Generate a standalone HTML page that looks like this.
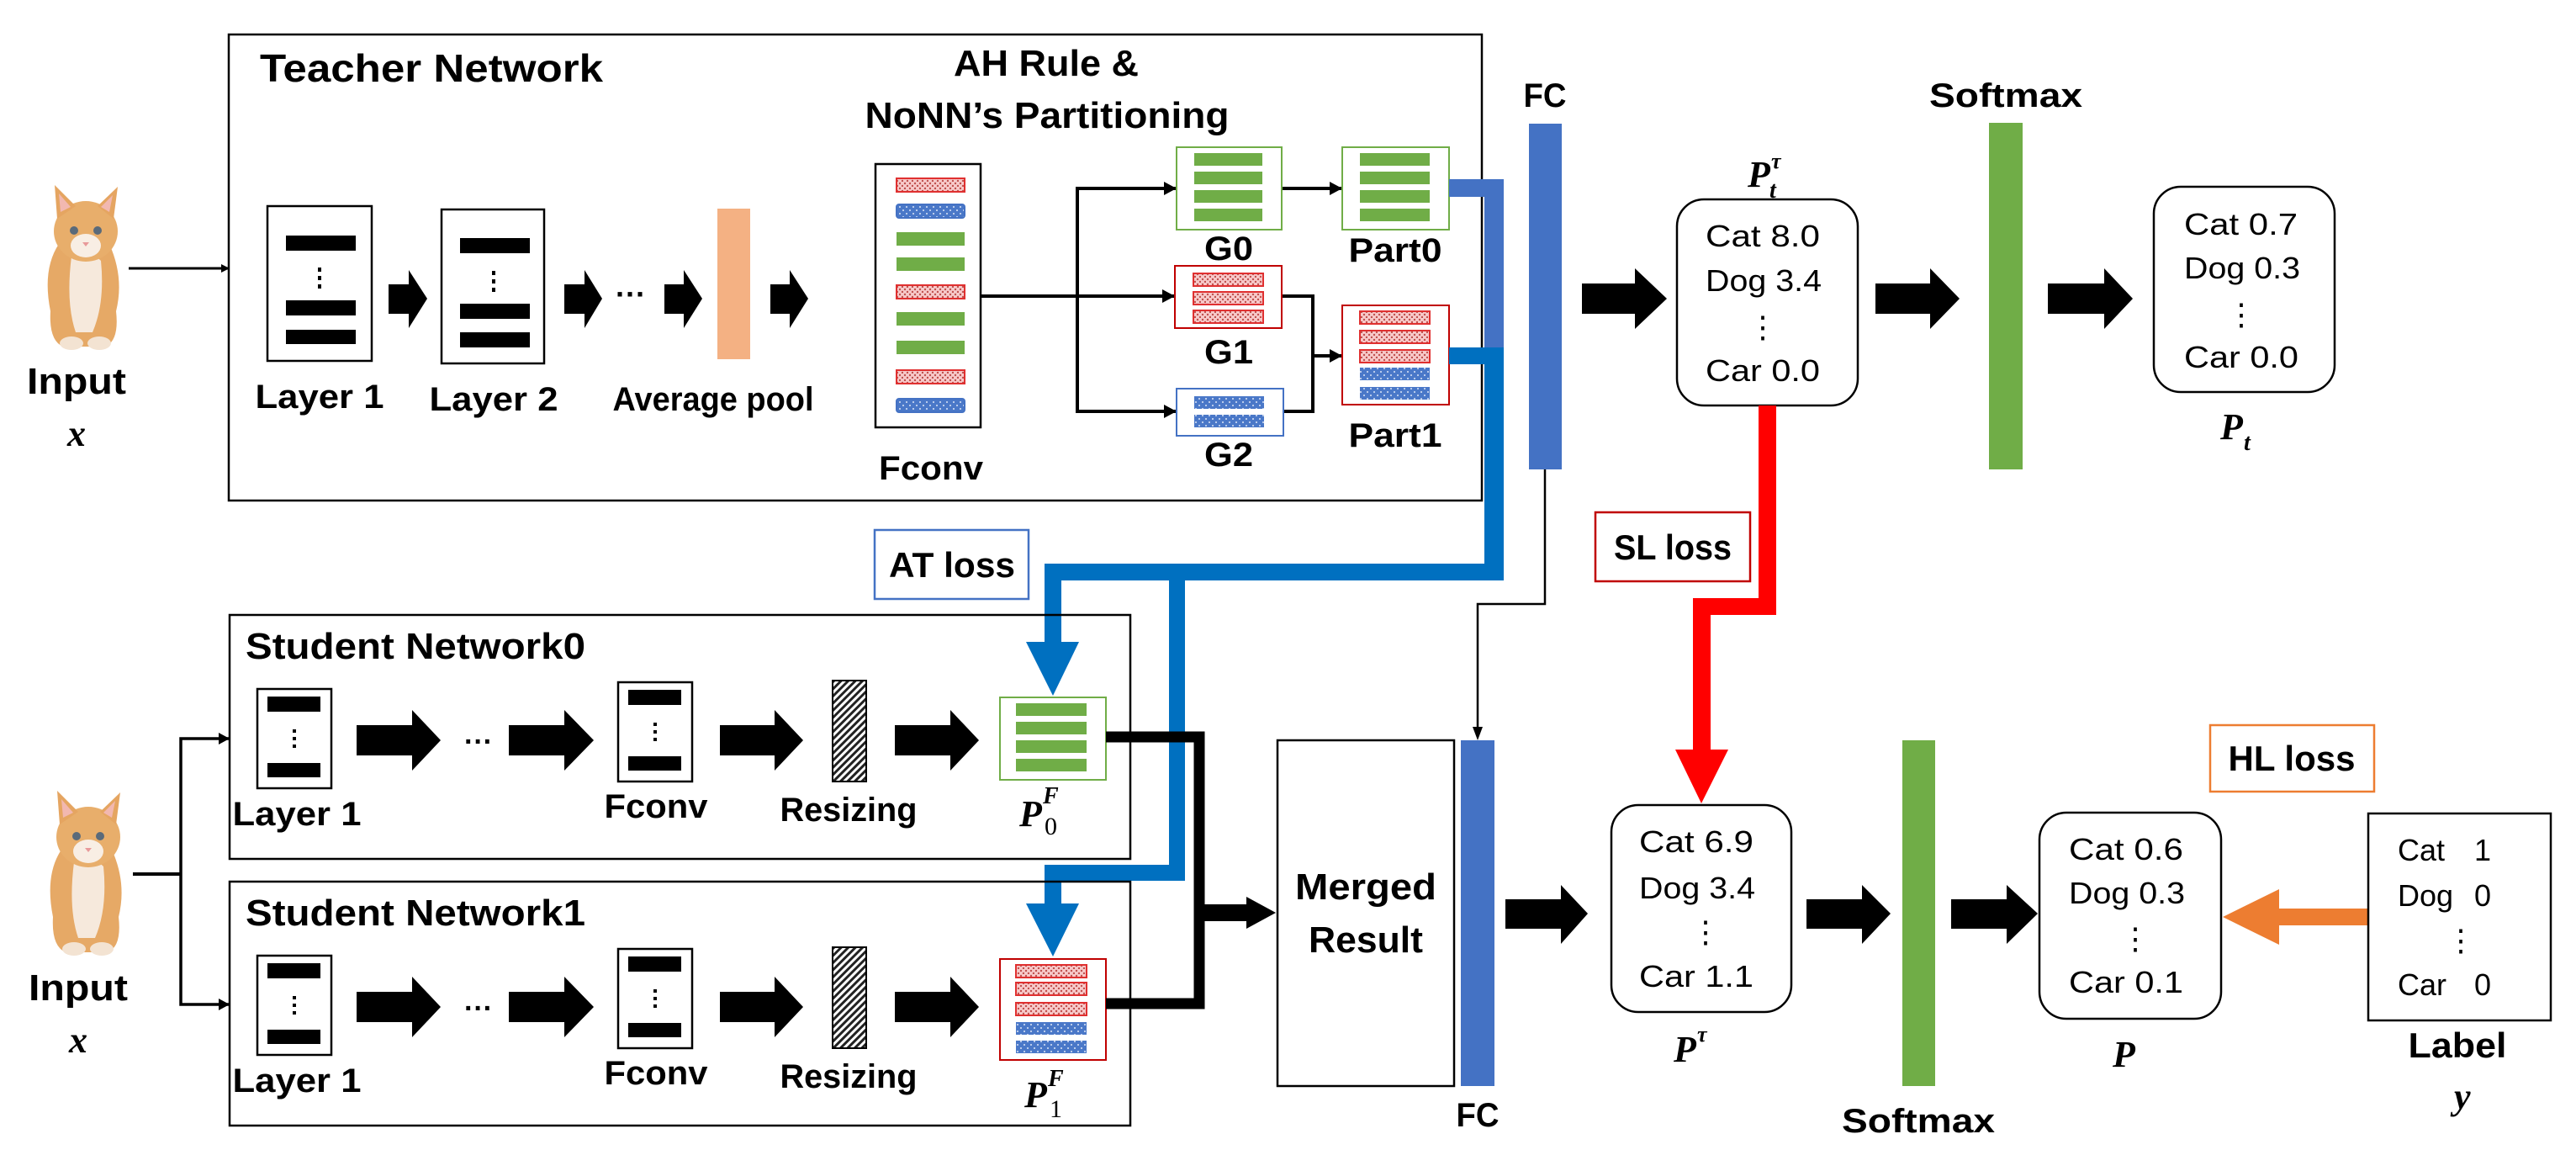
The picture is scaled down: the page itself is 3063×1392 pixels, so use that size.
<!DOCTYPE html>
<html><head><meta charset="utf-8"><style>
html,body{margin:0;padding:0;background:#fff;}
svg{display:block;}
.b{font-family:"Liberation Sans",sans-serif;font-weight:bold;}
.r{font-family:"Liberation Sans",sans-serif;}
.m{font-family:"Liberation Serif",serif;font-style:italic;font-weight:bold;}
</style></head><body>
<svg width="3063" height="1392" viewBox="0 0 3063 1392" xmlns="http://www.w3.org/2000/svg">
<defs>
<pattern id="pr" width="6" height="6" patternUnits="userSpaceOnUse"><rect width="6" height="6" fill="#F7C9C9"/><circle cx="2" cy="2" r="1.2" fill="#C0504D"/><circle cx="5" cy="5" r="1.2" fill="#C0504D"/></pattern>
<pattern id="pb" width="8" height="8" patternUnits="userSpaceOnUse"><rect width="8" height="8" fill="#4A78C8"/><circle cx="2" cy="2" r="1" fill="#DDE6F7"/><circle cx="6" cy="6" r="1" fill="#DDE6F7"/></pattern>
<pattern id="ph" width="6" height="6" patternUnits="userSpaceOnUse" patternTransform="rotate(45)"><rect width="6" height="6" fill="#fff"/><rect width="3" height="6" fill="#222"/></pattern>
<marker id="ah" markerWidth="10" markerHeight="10" refX="9" refY="5" orient="auto" markerUnits="userSpaceOnUse"><path d="M0,0 L10,5 L0,10 z" fill="#000"/></marker>
<g id="cat">
 <path d="M30,150 Q20,100 40,70 L60,60 Q90,55 100,70 Q118,110 108,150 Q112,185 95,192 L45,192 Q28,185 30,150z" fill="#E6A966"/>
 <path d="M55,85 Q75,75 90,90 Q95,140 80,175 L60,175 Q48,140 55,85z" fill="#F6E9DC"/>
 <ellipse cx="72" cy="55" rx="38" ry="36" fill="#E8AE6B"/>
 <path d="M38,40 L35,0 L60,25z" fill="#E5A561"/><path d="M105,40 L110,2 L86,25z" fill="#E5A561"/>
 <path d="M42,32 L40,10 L54,26z" fill="#F2B8B0"/><path d="M100,32 L104,12 L90,26z" fill="#F2B8B0"/>
 <ellipse cx="72" cy="72" rx="18" ry="14" fill="#F8EEE4"/>
 <circle cx="58" cy="54" r="5" fill="#5A6A7A"/><circle cx="86" cy="54" r="5" fill="#5A6A7A"/>
 <path d="M68,68 L76,68 L72,73z" fill="#E89A9A"/>
 <ellipse cx="55" cy="188" rx="14" ry="8" fill="#F3E3D2"/><ellipse cx="88" cy="188" rx="14" ry="8" fill="#F3E3D2"/>
</g>
</defs>

<use href="#cat" transform="translate(30,220)"/>
<use href="#cat" transform="translate(33,940)"/>
<text class="b" x="91" y="468" font-size="44" text-anchor="middle" textLength="118" lengthAdjust="spacingAndGlyphs">Input</text>
<text class="m" x="91" y="530" font-size="44" text-anchor="middle" font-weight="normal">x</text>
<text class="b" x="93" y="1189" font-size="44" text-anchor="middle" textLength="118" lengthAdjust="spacingAndGlyphs">Input</text>
<text class="m" x="93" y="1251" font-size="44" text-anchor="middle" font-weight="normal">x</text>

<rect x="272" y="41" width="1490" height="554" fill="none" stroke="#000" stroke-width="2.5"/>
<text class="b" x="309" y="97" font-size="46" textLength="408" lengthAdjust="spacingAndGlyphs">Teacher Network</text>
<line x1="153" y1="319" x2="272" y2="319" stroke="#000" stroke-width="3" marker-end="url(#ah)"/>

<rect x="318" y="245" width="124" height="184" fill="#fff" stroke="#000" stroke-width="2.5"/>
<rect x="340" y="280" width="83" height="18"/><rect x="340" y="357" width="83" height="18"/><rect x="340" y="392" width="83" height="17"/>
<rect x="378" y="318" width="4" height="5"/><rect x="378" y="328" width="4" height="5"/><rect x="378" y="338" width="4" height="5"/>
<rect x="525" y="249" width="122" height="183" fill="#fff" stroke="#000" stroke-width="2.5"/>
<rect x="547" y="283" width="83" height="18"/><rect x="547" y="361" width="83" height="18"/><rect x="547" y="395" width="83" height="18"/>
<rect x="585" y="322" width="4" height="5"/><rect x="585" y="332" width="4" height="5"/><rect x="585" y="342" width="4" height="5"/>
<text class="b" x="380" y="485" font-size="40" text-anchor="middle" textLength="153" lengthAdjust="spacingAndGlyphs">Layer 1</text>
<text class="b" x="587" y="488" font-size="40" text-anchor="middle" textLength="153" lengthAdjust="spacingAndGlyphs">Layer 2</text>
<text class="b" x="848" y="488" font-size="40" text-anchor="middle" textLength="239" lengthAdjust="spacingAndGlyphs">Average pool</text>
<text class="b" x="750" y="362" font-size="36" text-anchor="middle">···</text>
<rect x="853" y="248" width="39" height="179" fill="#F4B183"/>
<g fill="#000">
<polygon points="462,338 486,338 486,321 508,355 486,390 486,373 462,373"/>
<polygon points="671,338 695,338 695,321 716,355 695,390 695,373 671,373"/>
<polygon points="790,338 813,338 813,321 835,355 813,390 813,373 790,373"/>
<polygon points="916,338 939,338 939,321 961,355 939,390 939,373 916,373"/>
</g>

<text class="b" x="1244" y="90" font-size="44" text-anchor="middle" textLength="220" lengthAdjust="spacingAndGlyphs">AH Rule &amp;</text>
<text class="b" x="1245" y="152" font-size="44" text-anchor="middle" textLength="433" lengthAdjust="spacingAndGlyphs">NoNN’s Partitioning</text>
<rect x="1041" y="195" width="125" height="313" fill="#fff" stroke="#000" stroke-width="2.5"/>
<g stroke-width="2">
<rect x="1066" y="212" width="81" height="16" fill="url(#pr)" stroke="#E03030"/>
<rect x="1066" y="243" width="81" height="16" fill="url(#pb)" stroke="#4472C4" rx="3"/>
<rect x="1066" y="276" width="81" height="16" fill="#70AD47" stroke="none"/>
<rect x="1066" y="306" width="81" height="16" fill="#70AD47" stroke="none"/>
<rect x="1066" y="339" width="81" height="16" fill="url(#pr)" stroke="#E03030"/>
<rect x="1066" y="371" width="81" height="16" fill="#70AD47" stroke="none"/>
<rect x="1066" y="405" width="81" height="16" fill="#70AD47" stroke="none"/>
<rect x="1066" y="440" width="81" height="16" fill="url(#pr)" stroke="#E03030"/>
<rect x="1066" y="474" width="81" height="16" fill="url(#pb)" stroke="#4472C4" rx="3"/>
</g>
<text class="b" x="1107" y="570" font-size="40" text-anchor="middle" textLength="124" lengthAdjust="spacingAndGlyphs">Fconv</text>
<g stroke="#000" stroke-width="4" fill="none">
<line x1="1166" y1="352" x2="1281" y2="352"/>
<polyline points="1399,224 1281,224 1281,489 1399,489"/>
<line x1="1281" y1="352" x2="1397" y2="352"/>
<line x1="1524" y1="224" x2="1596" y2="224"/>
<polyline points="1524,352 1561,352 1561,489 1526,489"/>
<line x1="1561" y1="423" x2="1596" y2="423"/>
</g>
<g fill="#000">
<polygon points="1399,224 1384,216 1384,232"/><polygon points="1397,352 1382,344 1382,360"/><polygon points="1399,489 1384,481 1384,497"/>
<polygon points="1596,224 1581,216 1581,232"/><polygon points="1596,423 1581,415 1581,431"/>
</g>
<rect x="1399" y="175" width="125" height="98" fill="#fff" stroke="#70AD47" stroke-width="2"/>
<rect x="1420" y="182" width="81" height="15" fill="#70AD47"/><rect x="1420" y="204" width="81" height="15" fill="#70AD47"/><rect x="1420" y="226" width="81" height="15" fill="#70AD47"/><rect x="1420" y="248" width="81" height="15" fill="#70AD47"/>
<text class="b" x="1461" y="309" font-size="40" text-anchor="middle" textLength="58" lengthAdjust="spacingAndGlyphs">G0</text>
<rect x="1596" y="175" width="127" height="98" fill="#fff" stroke="#70AD47" stroke-width="2"/>
<rect x="1617" y="182" width="83" height="15" fill="#70AD47"/><rect x="1617" y="204" width="83" height="15" fill="#70AD47"/><rect x="1617" y="226" width="83" height="15" fill="#70AD47"/><rect x="1617" y="248" width="83" height="15" fill="#70AD47"/>
<text class="b" x="1659" y="311" font-size="40" text-anchor="middle" textLength="111" lengthAdjust="spacingAndGlyphs">Part0</text>
<rect x="1397" y="316" width="127" height="74" fill="#fff" stroke="#C00000" stroke-width="2"/>
<g stroke="#E03030" stroke-width="2"><rect x="1419" y="325" width="83" height="15" fill="url(#pr)"/><rect x="1419" y="347" width="83" height="15" fill="url(#pr)"/><rect x="1419" y="369" width="83" height="15" fill="url(#pr)"/></g>
<text class="b" x="1461" y="432" font-size="40" text-anchor="middle" textLength="58" lengthAdjust="spacingAndGlyphs">G1</text>
<rect x="1399" y="462" width="127" height="56" fill="#fff" stroke="#4472C4" stroke-width="2"/>
<rect x="1420" y="471" width="83" height="15" fill="url(#pb)"/><rect x="1420" y="493" width="83" height="15" fill="url(#pb)"/>
<text class="b" x="1461" y="554" font-size="40" text-anchor="middle" textLength="58" lengthAdjust="spacingAndGlyphs">G2</text>
<rect x="1596" y="363" width="127" height="118" fill="#fff" stroke="#C00000" stroke-width="2"/>
<g stroke="#E03030" stroke-width="2"><rect x="1617" y="370" width="83" height="15" fill="url(#pr)"/><rect x="1617" y="393" width="83" height="15" fill="url(#pr)"/><rect x="1617" y="416" width="83" height="15" fill="url(#pr)"/></g>
<rect x="1617" y="437" width="83" height="15" fill="url(#pb)"/><rect x="1617" y="460" width="83" height="15" fill="url(#pb)"/>
<text class="b" x="1659" y="531" font-size="40" text-anchor="middle" textLength="111" lengthAdjust="spacingAndGlyphs">Part1</text>

<text class="b" x="1837" y="127" font-size="40" text-anchor="middle" textLength="51" lengthAdjust="spacingAndGlyphs">FC</text>
<rect x="1818" y="147" width="39" height="411" fill="#4472C4"/>
<polyline points="1837,558 1837,718 1757,718 1757,870" fill="none" stroke="#000" stroke-width="2.5"/>
<polygon points="1757,880 1751,864 1763,864" fill="#000"/>

<rect x="1723" y="213" width="65" height="21" fill="#4472C4"/>
<rect x="1765" y="213" width="23" height="210" fill="#4472C4"/>
<rect x="1723" y="413" width="65" height="20" fill="#0070C0"/>
<rect x="1765" y="413" width="23" height="277" fill="#0070C0"/>
<rect x="1242" y="670" width="546" height="20" fill="#0070C0"/>
<rect x="1242" y="670" width="20" height="95" fill="#0070C0"/>
<polygon points="1220,763 1283,763 1252,827" fill="#0070C0"/>
<rect x="1390" y="670" width="19" height="377" fill="#0070C0"/>
<rect x="1242" y="1028" width="167" height="19" fill="#0070C0"/>
<rect x="1242" y="1028" width="20" height="48" fill="#0070C0"/>
<polygon points="1220,1074 1283,1074 1252,1137" fill="#0070C0"/>
<rect x="1040" y="630" width="183" height="82" fill="#fff" stroke="#4472C4" stroke-width="2.5"/>
<text class="b" x="1132" y="686" font-size="42" text-anchor="middle" textLength="150" lengthAdjust="spacingAndGlyphs">AT loss</text>

<g id="stu">
<rect x="273" y="731" width="1071" height="290" fill="none" stroke="#000" stroke-width="2.5"/>
<rect x="306" y="819" width="88" height="118" fill="#fff" stroke="#000" stroke-width="2.5"/>
<rect x="318" y="828" width="63" height="18"/><rect x="318" y="907" width="63" height="17"/>
<rect x="348" y="867" width="4" height="4"/><rect x="348" y="876" width="4" height="4"/><rect x="348" y="885" width="4" height="4"/>
<rect x="735" y="811" width="88" height="118" fill="#fff" stroke="#000" stroke-width="2.5"/>
<rect x="747" y="820" width="63" height="18"/><rect x="747" y="899" width="63" height="17"/>
<rect x="777" y="859" width="4" height="4"/><rect x="777" y="868" width="4" height="4"/><rect x="777" y="877" width="4" height="4"/>
<rect x="990" y="809" width="40" height="120" fill="url(#ph)" stroke="#000" stroke-width="2"/>
<text class="b" x="569" y="893" font-size="34" text-anchor="middle">···</text>
<g fill="#000">
<polygon points="424,862 490,862 490,844 524,880 490,916 490,898 424,898"/>
<polygon points="605,862 671,862 671,844 706,880 671,916 671,898 605,898"/>
<polygon points="856,862 921,862 921,844 955,880 921,916 921,898 856,898"/>
<polygon points="1064,862 1130,862 1130,844 1164,880 1130,916 1130,898 1064,898"/>
</g>
<text class="b" x="353" y="981" font-size="40" text-anchor="middle" textLength="153" lengthAdjust="spacingAndGlyphs">Layer 1</text>
<text class="b" x="780" y="972" font-size="40" text-anchor="middle" textLength="123" lengthAdjust="spacingAndGlyphs">Fconv</text>
<text class="b" x="1009" y="976" font-size="40" text-anchor="middle" textLength="163" lengthAdjust="spacingAndGlyphs">Resizing</text>
</g>
<use href="#stu" transform="translate(0,317)"/>
<text class="b" x="292" y="783" font-size="44" textLength="404" lengthAdjust="spacingAndGlyphs">Student Network0</text>
<text class="b" x="292" y="1100" font-size="44" textLength="404" lengthAdjust="spacingAndGlyphs">Student Network1</text>
<rect x="1189" y="829" width="126" height="98" fill="#fff" stroke="#70AD47" stroke-width="2"/>
<rect x="1208" y="836" width="84" height="15" fill="#70AD47"/><rect x="1208" y="858" width="84" height="15" fill="#70AD47"/><rect x="1208" y="880" width="84" height="15" fill="#70AD47"/><rect x="1208" y="902" width="84" height="15" fill="#70AD47"/>
<text class="m" x="1212" y="982" font-size="44">P</text><text class="m" x="1240" y="955" font-size="28">F</text><text x="1242" y="992" font-size="30" font-family="Liberation Serif,serif">0</text>
<rect x="1189" y="1140" width="126" height="120" fill="#fff" stroke="#C00000" stroke-width="2"/>
<g stroke="#E03030" stroke-width="2"><rect x="1208" y="1147" width="84" height="15" fill="url(#pr)"/><rect x="1208" y="1168" width="84" height="15" fill="url(#pr)"/><rect x="1208" y="1192" width="84" height="15" fill="url(#pr)"/></g>
<rect x="1208" y="1215" width="84" height="15" fill="url(#pb)"/><rect x="1208" y="1237" width="84" height="15" fill="url(#pb)"/>
<text class="m" x="1218" y="1316" font-size="44">P</text><text class="m" x="1246" y="1291" font-size="28">F</text><text x="1248" y="1328" font-size="30" font-family="Liberation Serif,serif">1</text>

<polyline points="158,1039 215,1039" fill="none" stroke="#000" stroke-width="4"/>
<polyline points="273,878 215,878 215,1194 273,1194" fill="none" stroke="#000" stroke-width="3.5"/>
<polygon points="273,878 260,871 260,885"/><polygon points="273,1194 260,1187 260,1201"/>

<polyline points="1315,876 1426,876 1426,1193 1315,1193" fill="none" stroke="#000" stroke-width="13"/>
<polygon points="1426,1075 1482,1075 1482,1066 1517,1085 1482,1104 1482,1095 1426,1095"/>

<rect x="1519" y="880" width="210" height="411" fill="#fff" stroke="#000" stroke-width="2.5"/>
<text class="b" x="1624" y="1069" font-size="44" text-anchor="middle" textLength="168" lengthAdjust="spacingAndGlyphs">Merged</text>
<text class="b" x="1624" y="1132" font-size="44" text-anchor="middle" textLength="136" lengthAdjust="spacingAndGlyphs">Result</text>
<rect x="1737" y="880" width="40" height="411" fill="#4472C4"/>
<text class="b" x="1757" y="1339" font-size="40" text-anchor="middle" textLength="51" lengthAdjust="spacingAndGlyphs">FC</text>

<polygon points="1881,337 1944,337 1944,319 1982,355 1944,391 1944,373 1881,373"/>
<text class="m" x="2078" y="222" font-size="44">P</text><text class="m" x="2106" y="200" font-size="26">τ</text><text class="m" x="2104" y="235" font-size="28">t</text>
<rect x="1994" y="237" width="215" height="245" rx="32" fill="#fff" stroke="#000" stroke-width="2.5"/>
<g class="r" font-size="36">
<text x="2028" y="293" textLength="136" lengthAdjust="spacingAndGlyphs">Cat  8.0</text>
<text x="2028" y="346" textLength="138" lengthAdjust="spacingAndGlyphs">Dog 3.4</text>
<text x="2096" y="401" text-anchor="middle">⋮</text>
<text x="2028" y="453" textLength="136" lengthAdjust="spacingAndGlyphs">Car  0.0</text>
</g>
<polygon points="2230,337 2295,337 2295,319 2330,355 2295,391 2295,373 2230,373"/>
<rect x="2365" y="146" width="40" height="412" fill="#70AD47"/>
<text class="b" x="2385" y="127" font-size="40" text-anchor="middle" textLength="182" lengthAdjust="spacingAndGlyphs">Softmax</text>
<polygon points="2435,337 2502,337 2502,319 2536,355 2502,391 2502,373 2435,373"/>
<rect x="2561" y="222" width="215" height="244" rx="32" fill="#fff" stroke="#000" stroke-width="2.5"/>
<g class="r" font-size="36">
<text x="2597" y="279" textLength="135" lengthAdjust="spacingAndGlyphs">Cat  0.7</text>
<text x="2597" y="331" textLength="138" lengthAdjust="spacingAndGlyphs">Dog 0.3</text>
<text x="2665" y="386" text-anchor="middle">⋮</text>
<text x="2597" y="437" textLength="136" lengthAdjust="spacingAndGlyphs">Car  0.0</text>
</g>
<text class="m" x="2640" y="522" font-size="44">P</text><text class="m" x="2668" y="535" font-size="28">t</text>

<rect x="2091" y="482" width="21" height="249" fill="#FF0000"/>
<rect x="2013" y="711" width="99" height="20" fill="#FF0000"/>
<rect x="2013" y="711" width="21" height="182" fill="#FF0000"/>
<polygon points="1992,891 2055,891 2023,955" fill="#FF0000"/>
<rect x="1897" y="609" width="184" height="82" fill="#fff" stroke="#C00000" stroke-width="2.5"/>
<text class="b" x="1989" y="665" font-size="42" text-anchor="middle" textLength="140" lengthAdjust="spacingAndGlyphs">SL loss</text>

<polygon points="1790,1069 1856,1069 1856,1052 1888,1086 1856,1122 1856,1104 1790,1104"/>
<rect x="1916" y="957" width="214" height="246" rx="32" fill="#fff" stroke="#000" stroke-width="2.5"/>
<g class="r" font-size="36">
<text x="1949" y="1013" textLength="136" lengthAdjust="spacingAndGlyphs">Cat  6.9</text>
<text x="1949" y="1068" textLength="138" lengthAdjust="spacingAndGlyphs">Dog 3.4</text>
<text x="2028" y="1120" text-anchor="middle">⋮</text>
<text x="1949" y="1173" textLength="136" lengthAdjust="spacingAndGlyphs">Car  1.1</text>
</g>
<text class="m" x="1990" y="1262" font-size="44">P</text><text class="m" x="2018" y="1238" font-size="26">τ</text>
<polygon points="2148,1069 2214,1069 2214,1052 2248,1086 2214,1122 2214,1104 2148,1104"/>
<rect x="2262" y="880" width="39" height="411" fill="#70AD47"/>
<text class="b" x="2281" y="1346" font-size="40" text-anchor="middle" textLength="182" lengthAdjust="spacingAndGlyphs">Softmax</text>
<polygon points="2320,1069 2386,1069 2386,1052 2423,1086 2386,1122 2386,1104 2320,1104"/>
<rect x="2425" y="966" width="216" height="245" rx="32" fill="#fff" stroke="#000" stroke-width="2.5"/>
<g class="r" font-size="36">
<text x="2460" y="1022" textLength="136" lengthAdjust="spacingAndGlyphs">Cat  0.6</text>
<text x="2460" y="1074" textLength="138" lengthAdjust="spacingAndGlyphs">Dog 0.3</text>
<text x="2539" y="1128" text-anchor="middle">⋮</text>
<text x="2460" y="1180" textLength="136" lengthAdjust="spacingAndGlyphs">Car  0.1</text>
</g>
<text class="m" x="2512" y="1268" font-size="44">P</text>
<rect x="2628" y="862" width="195" height="79" fill="#fff" stroke="#ED7D31" stroke-width="2.5"/>
<text class="b" x="2725" y="916" font-size="42" text-anchor="middle" textLength="151" lengthAdjust="spacingAndGlyphs">HL loss</text>
<polygon points="2816,1080 2710,1080 2710,1057 2643,1090 2710,1123 2710,1100 2816,1100" fill="#ED7D31"/>
<rect x="2816" y="967" width="217" height="246" fill="#fff" stroke="#000" stroke-width="2.5"/>
<g class="r" font-size="36">
<text x="2851" y="1023">Cat</text><text x="2942" y="1023">1</text>
<text x="2851" y="1077">Dog</text><text x="2942" y="1077">0</text>
<text x="2926" y="1130" text-anchor="middle">⋮</text>
<text x="2851" y="1183">Car</text><text x="2942" y="1183">0</text>
</g>
<text class="b" x="2922" y="1257" font-size="42" text-anchor="middle" textLength="117" lengthAdjust="spacingAndGlyphs">Label</text>
<text class="m" x="2918" y="1318" font-size="44" font-weight="normal">y</text>
</svg>
</body></html>
